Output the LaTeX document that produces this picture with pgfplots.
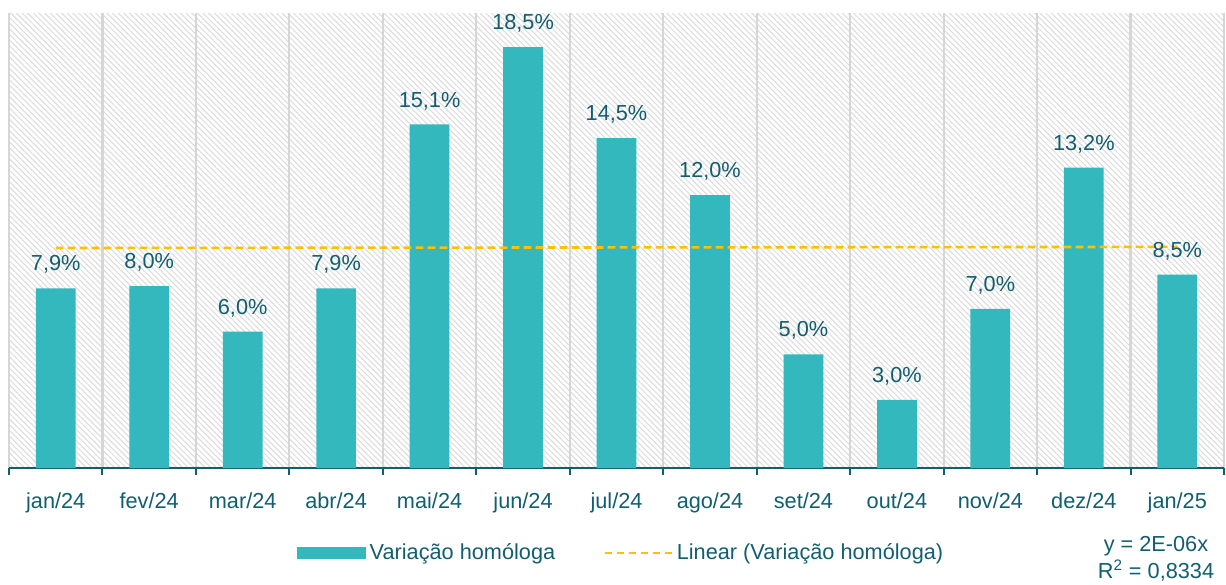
\documentclass[border=0pt]{standalone}
\usepackage{pgfplots}
\pgfplotsset{compat=1.18}
\usepackage{pgfplotstable}
\usepackage{fontspec}
\setmainfont{Liberation Sans}
\usetikzlibrary{patterns.meta}
\definecolor{barc}{HTML}{33B8BD}
\definecolor{txt}{HTML}{115E6F}
\definecolor{gridc}{HTML}{D6D6D6}
\definecolor{trend}{HTML}{FFC000}
\pgfplotstableread{
x y
0 7.9
1 8.0
2 6.0
3 7.9
4 15.1
5 18.5
6 14.5
7 12.0
8 5.0
9 3.0
10 7.0
11 13.2
12 8.5
}\data
\begin{document}
\begin{tikzpicture}
\begin{axis}[
  at={(0,0)}, anchor=south west,
  scale only axis, width=607.5bp, height=227.5bp,
  xmin=-0.5, xmax=12.5, ymin=0, ymax=20,
  axis y line=none, axis x line*=bottom,
  x axis line style={draw=txt, line width=1bp},
  xtick={0,...,12},
  xticklabels={jan/24,fev/24,mar/24,abr/24,mai/24,jun/24,jul/24,ago/24,set/24,out/24,nov/24,dez/24,jan/25},
  major tick length=0pt,
  minor xtick={-0.5,0.5,...,12.5},
  minor tick length=3.5bp,
  tick align=outside,
  minor tick style={draw=txt, line width=1bp},
  xminorgrids=true,
  minor grid style={draw=gridc, line width=1.1bp},
  axis background/.style={fill=white, postaction={pattern={Lines[angle=-45,distance=2bp,line width=0.5bp]}, pattern color=gray!28}},
  tick label style={font=\fontsize{10.9}{13}\selectfont, text=txt},
  xticklabel style={yshift=-9bp},
  /pgf/number format/assume math mode=true,
  legend style={at={(0.5045,-0.1868)}, anchor=center, draw=none, fill=none,
    font=\fontsize{10.9}{13}\selectfont, text=txt, legend columns=2,
    /tikz/every even column/.append style={column sep=22bp}},
  legend cell align=left,
  clip=false,
]
\addplot[ybar, fill=barc, draw=none, bar width=0.425,
  nodes near coords={\pgfmathprintnumber[fixed,fixed zerofill,precision=1,use comma]{\pgfplotspointmeta}\%},
  every node near coord/.append style={font=\fontsize{10.9}{13}\selectfont, text=txt, anchor=south, yshift=3.8bp},
  legend image code/.code={\fill[barc] (0bp,-3bp) rectangle (34.5bp,3bp);}
] table[x=x,y=y] {\data};
\addlegendentry{Variação homóloga}
\addplot[trend, line width=1.3bp, dash pattern=on 3.8bp off 2.2bp,
  legend image code/.code={\draw[trend, line width=1.3bp, dash pattern=on 3.8bp off 2.2bp] (0bp,0bp) -- (33.5bp,0bp);}
] coordinates {(0,9.67) (12,9.72)};
\addlegendentry{Linear (Variação homóloga)}
\node[align=center, font=\fontsize{10.9}{13.5}\selectfont, text=txt, inner sep=0pt] at (rel axis cs:0.944,-0.199) {y = 2E-06x\\R\textsuperscript{2} = 0,8334};
\end{axis}
\pgfresetboundingbox
\path[use as bounding box] (-4.5bp,-58.5bp) rectangle (608.5bp,234bp);
\end{tikzpicture}
\end{document}
